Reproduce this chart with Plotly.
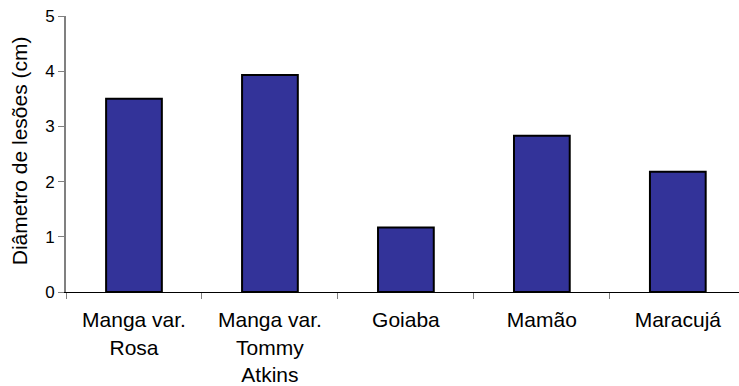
import plotly.graph_objects as go

# Lesion diameter per fruit host
categories = ["Manga var.<br>Rosa", "Manga var.<br>Tommy<br>Atkins", "Goiaba", "Mamão", "Maracujá"]
diametro_cm = [3.50, 3.93, 1.17, 2.83, 2.18]
y_ticks = [0, 1, 2, 3, 4, 5]
y_title = "Diâmetro de lesões (cm)"

FONT = "Arial, 'Liberation Sans', sans-serif"

fig = go.Figure(
    go.Bar(
        x=categories,
        y=diametro_cm,
        width=0.41,
        marker=dict(color="#333399", line=dict(color="#000000", width=2)),
    )
)

fig.update_layout(
    width=739,
    height=386,
    margin=dict(l=66, r=0, t=16, b=94),
    paper_bgcolor="white",
    plot_bgcolor="white",
    showlegend=False,
    font=dict(family=FONT, color="#000000"),
)

fig.update_xaxes(
    type="category",
    range=[-0.5, 4.45],
    automargin=False,
    tickson="boundaries",
    ticks="outside",
    ticklen=6,
    tickcolor="#808080",
    tickwidth=1,
    showline=True,
    linecolor="#000000",
    linewidth=1,
    showgrid=False,
    zeroline=False,
    tickfont=dict(size=21, family=FONT, color="#000000"),
    ticklabelstandoff=9,
)

fig.update_yaxes(
    range=[0, 5],
    automargin=False,
    tickvals=y_ticks,
    ticktext=[str(v) for v in y_ticks],
    ticks="outside",
    ticklen=6,
    tickcolor="#808080",
    tickwidth=1,
    showline=True,
    linecolor="#808080",
    linewidth=2,
    showgrid=False,
    zeroline=False,
    tickfont=dict(size=17, family=FONT, color="#000000"),
)

# Vertical axis title placed to the left of the tick labels
fig.add_annotation(
    text=y_title,
    textangle=-90,
    xref="paper",
    yref="paper",
    x=-47 / 673,
    y=0.51,
    xanchor="center",
    yanchor="middle",
    showarrow=False,
    font=dict(size=21, family=FONT, color="#000000"),
)

fig.write_html("out.html")
